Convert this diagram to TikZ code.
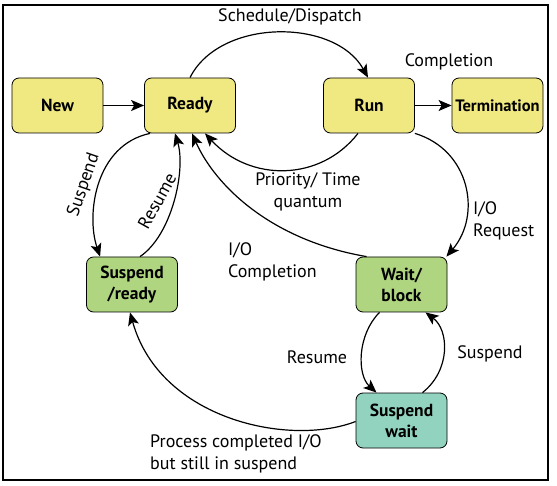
\documentclass[tikz,border=0pt]{standalone}
\usepackage{fontspec}
\setmainfont{PT Sans}
\usetikzlibrary{arrows.meta}
\definecolor{boxyellow}{RGB}{240,233,130}
\definecolor{boxgreen}{RGB}{176,213,128}
\definecolor{boxteal}{RGB}{146,211,192}
\tikzset{
  state/.style={draw=black, line width=0.8pt, rounded corners=7pt, minimum width=91pt, minimum height=55pt, inner sep=1pt, align=center, font=\fontsize{17.5}{21}\selectfont\bfseries},
  edge/.style={line width=1.2pt, -{Stealth[length=13pt,width=11pt,inset=3pt]}},
  lbl/.style={font=\fontsize{18}{22}\selectfont, inner sep=0pt},
}
\begin{document}
\begin{tikzpicture}[x=1pt,y=-1pt]
\useasboundingbox (0,0) rectangle (557,486);
\draw[line width=1.2pt] (3,5) rectangle (548,480);

\node[state, fill=boxyellow] (new) at (57.5,105.5) {New};
\node[state, fill=boxyellow] (ready) at (190,105.5) {Ready};
\node[state, fill=boxyellow] (run) at (369,105.5) {Run};
\node[state, fill=boxyellow, font=\fontsize{16.5}{20}\selectfont\bfseries] (term) at (497.5,105.5) {Termination};
\node[state, fill=boxgreen] (susready) at (132,284.5) {Suspend\\/ready};
\node[state, fill=boxgreen] (wait) at (401.5,284.5) {Wait/\\block};
\node[state, fill=boxteal] (suswait) at (401.5,420.5) {Suspend\\wait};

% straight arrows
\draw[edge] (new) -- (ready);
\draw[edge] (run) -- (term);

% Schedule/Dispatch
\draw[edge] (ready.north) .. controls (220,18) and (335,18) .. ([xshift=-1pt]run.north);
% Priority / Time quantum
\draw[edge] ([xshift=-11pt]run.south) .. controls (320,182) and (250,182) .. ([xshift=15pt]ready.south);
% Suspend (ready -> suspend/ready)
\draw[edge] ([xshift=6pt]ready.south west) .. controls (95,145) and (86,215) .. ([xshift=14pt]susready.north west);
% Resume (suspend/ready -> ready)
\draw[edge] ([xshift=8pt]susready.north) .. controls (172,235) and (186,170) .. ([xshift=-15pt]ready.south);
% I/O Completion (wait -> ready)
\draw[edge] ([xshift=11pt]wait.north west) .. controls (270,240) and (215,185) .. ([xshift=2pt]ready.south);
% I/O Request (run -> wait)
\draw[edge] (run.south east) .. controls (470,150) and (482,215) .. ([xshift=-1pt]wait.north east);
% Resume (wait -> suspend wait)
\draw[edge] ([xshift=-22pt]wait.south) .. controls (357,335) and (357,375) .. ([xshift=-25pt]suswait.north);
% Suspend (suspend wait -> wait)
\draw[edge] ([xshift=21pt]suswait.north) .. controls (451,370) and (449,330) .. ([xshift=24pt]wait.south);
% Process completed I/O
\draw[edge] ([yshift=-1pt]suswait.west) .. controls (290,447) and (160,420) .. ([xshift=-2pt]susready.south);

% labels
\node[lbl] (l1) at (290,17) {Schedule/Dispatch};
\node[lbl] (l2) at (449,62) {Completion};
\node[lbl, align=center] (l3) at (308,192) {Priority/ Time\\quantum};
\node[lbl, rotate=71] (l4) at (84,185) {Suspend};
\node[lbl, rotate=61] (l5) at (157,201) {Resume};
\node[lbl, align=left, anchor=west] (l6) at (228,262) {I/O\\Completion};
\node[lbl, align=left, anchor=west] (l7) at (473,221) {I/O\\Request};
\node[lbl] (l8) at (317,357) {Resume};
\node[lbl] (l9) at (490,354) {Suspend};
\node[lbl, align=left, anchor=west] (l10) at (150,454) {Process completed I/O\\but still in suspend};
\end{tikzpicture}
\end{document}
